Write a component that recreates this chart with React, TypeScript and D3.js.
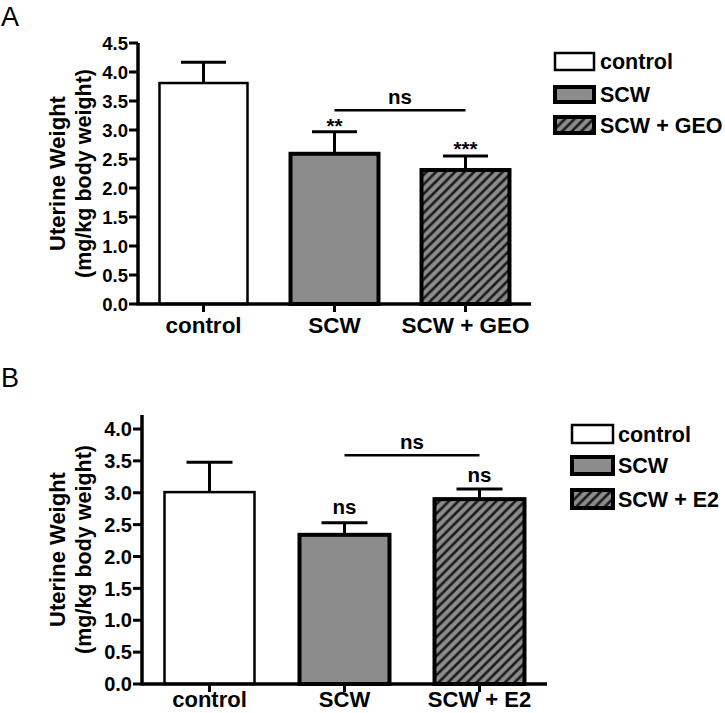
import React from "react";
import * as d3 from "d3";

// ---------- Data ----------
const categoriesA = ["control", "SCW", "SCW + GEO"];
const meansA = [3.81, 2.59, 2.31];
const errorsA = [0.36, 0.38, 0.24];
const sigA = ["", "**", "***"];
const bracketA = { from: 1, to: 2, level: 3.34, label: "ns" };
const ticksA = [0, 0.5, 1, 1.5, 2, 2.5, 3, 3.5, 4, 4.5];

const categoriesB = ["control", "SCW", "SCW + E2"];
const meansB = [3.01, 2.34, 2.9];
const errorsB = [0.47, 0.19, 0.16];
const sigB = ["", "ns", "ns"];
const bracketB = { from: 1, to: 2, level: 3.59, label: "ns" };
const ticksB = [0, 0.5, 1, 1.5, 2, 2.5, 3, 3.5, 4];

const yTitle1 = "Uterine Weight";
const yTitle2 = "(mg/kg body weight)";

const FONT = "'Liberation Sans', Arial, Helvetica, sans-serif";
const GRAY = "#8c8c8c";

type PanelProps = {
  letter: string;
  letterY: number;
  cats: string[];
  means: number[];
  errs: number[];
  sig: string[];
  bracket: { from: number; to: number; level: number; label: string };
  ticks: number[];
  yMax: number;
  axisTop: number;
  yTop: number;
  yBottom: number;
  xLeft: number;
  xRight: number;
  barW: number;
  capW: number;
  tickFont: number;
  labelDy: number;
  labelFont: number;
  legendX: number;
  legendTextX: number;
  legendRows: [number, number][];
  legendW: number;
  sigOffset: number[];
};

function fillFor(i: number) {
  if (i === 0) return "#ffffff";
  if (i === 1) return GRAY;
  return "url(#hatch)";
}

function Panel(p: PanelProps) {
  const y = d3.scaleLinear().domain([0, p.yMax]).range([p.yBottom, p.yTop]);
  const x = d3.scalePoint<string>().domain(p.cats).range([p.xLeft, p.xRight]).padding(0.5);
  const midY = (y(p.axisTop) + p.yBottom) / 2;
  return (
    <g>
      <text x={1} y={p.letterY} fontFamily={FONT} fontSize={27} fill="#000">
        {p.letter}
      </text>
      {/* y title */}
      <g transform={`translate(65,${midY}) rotate(-90)`}>
        <text textAnchor="middle" fontFamily={FONT} fontWeight="bold" fontSize={22}>
          {yTitle1}
        </text>
      </g>
      <g transform={`translate(91,${midY}) rotate(-90)`}>
        <text textAnchor="middle" fontFamily={FONT} fontWeight="bold" fontSize={21.5}>
          {yTitle2}
        </text>
      </g>
      {/* bars */}
      {p.cats.map((c, i) => {
        const cx = x(c)!;
        const top = y(p.means[i]);
        const capY = y(p.means[i] + p.errs[i]);
        const sw = i === 0 ? 2.5 : 4;
        return (
          <g key={c}>
            <line x1={cx} x2={cx} y1={top} y2={capY} stroke="#000" strokeWidth={3} />
            <line x1={cx - p.capW / 2} x2={cx + p.capW / 2} y1={capY} y2={capY} stroke="#000" strokeWidth={3} />
            <rect
              x={cx - p.barW / 2}
              y={top}
              width={p.barW}
              height={p.yBottom - top}
              fill={fillFor(i)}
              stroke="#000"
              strokeWidth={sw}
            />
            {p.sig[i] && (
              <text
                x={cx}
                y={capY - p.sigOffset[i]}
                textAnchor="middle"
                fontFamily={FONT}
                fontWeight="bold"
                fontSize={20.5}
              >
                {p.sig[i]}
              </text>
            )}
            <line x1={cx} x2={cx} y1={p.yBottom} y2={p.yBottom + 8} stroke="#000" strokeWidth={3} />
            <text
              x={cx}
              y={p.yBottom + p.labelDy}
              textAnchor="middle"
              fontFamily={FONT}
              fontWeight="bold"
              fontSize={p.labelFont}
            >
              {c}
            </text>
          </g>
        );
      })}
      {/* bracket */}
      {(() => {
        const x1 = x(p.cats[p.bracket.from])!;
        const x2 = x(p.cats[p.bracket.to])!;
        const by = y(p.bracket.level);
        return (
          <g>
            <line x1={x1} x2={x2} y1={by} y2={by} stroke="#000" strokeWidth={2.5} />
            <text x={(x1 + x2) / 2} y={by - 6} textAnchor="middle" fontFamily={FONT} fontWeight="bold" fontSize={20.5}>
              {p.bracket.label}
            </text>
          </g>
        );
      })()}
      {/* axes */}
      <line x1={p.xLeft} x2={p.xLeft} y1={y(p.axisTop)} y2={p.yBottom + 1.5} stroke="#000" strokeWidth={3.5} />
      <line x1={p.xLeft} x2={p.xRight} y1={p.yBottom} y2={p.yBottom} stroke="#000" strokeWidth={3.5} />
      {p.ticks.map((t) => (
        <g key={t}>
          <line x1={p.xLeft - 9} x2={p.xLeft} y1={y(t)} y2={y(t)} stroke="#000" strokeWidth={3} />
          <text
            x={p.xLeft - 10}
            y={y(t)}
            dy="0.36em"
            textAnchor="end"
            fontFamily={FONT}
            fontWeight="bold"
            fontSize={p.tickFont}
          >
            {d3.format(".1f")(t)}
          </text>
        </g>
      ))}
      {/* legend */}
      {p.cats.map((c, i) => {
        const [t, b] = p.legendRows[i];
        return (
          <g key={"leg" + c}>
            <rect
              x={p.legendX}
              y={t}
              width={p.legendW}
              height={b - t}
              fill={fillFor(i)}
              stroke="#000"
              strokeWidth={i === 0 ? 2.5 : 4}
            />
            <text
              x={p.legendTextX}
              y={(t + b) / 2}
              dy="0.36em"
              fontFamily={FONT}
              fontWeight="bold"
              fontSize={21.5}
            >
              {c}
            </text>
          </g>
        );
      })}
    </g>
  );
}

export default function App() {
  return (
    <svg width={725} height={713} style={{ position: "absolute", left: 0, top: 0, background: "#fff" }}>
      <defs>
        <pattern id="hatch" patternUnits="userSpaceOnUse" width={9.5} height={9.5}>
          <rect width={9.5} height={9.5} fill={GRAY} />
          <path d="M-2,2 l4,-4 M0,9.5 l9.5,-9.5 M7.5,11.5 l4,-4" stroke="#1a1a1a" strokeWidth={2.6} />
        </pattern>
      </defs>
      <rect width={725} height={713} fill="#fff" />
      <Panel
        letter="A"
        letterY={26}
        cats={categoriesA}
        means={meansA}
        errs={errorsA}
        sig={sigA}
        bracket={bracketA}
        ticks={ticksA}
        yMax={4.5}
        axisTop={4.5}
        yTop={43}
        yBottom={304}
        xLeft={138}
        xRight={531}
        barW={88}
        capW={45}
        tickFont={18.5}
        labelDy={29}
        labelFont={22.5}
        legendX={555}
        legendTextX={600}
        legendRows={[
          [53, 70],
          [87, 102],
          [117, 133],
        ]}
        legendW={39}
        sigOffset={[0, -1, 0]}
      />
      <Panel
        letter="B"
        letterY={387}
        cats={categoriesB}
        means={meansB}
        errs={errorsB}
        sig={sigB}
        bracket={bracketB}
        ticks={ticksB}
        yMax={4}
        axisTop={4.22}
        yTop={429}
        yBottom={684}
        xLeft={142}
        xRight={547}
        barW={90}
        capW={46}
        tickFont={20}
        labelDy={23}
        labelFont={22}
        legendX={572}
        legendTextX={618}
        legendRows={[
          [425, 443],
          [457, 474],
          [490, 508],
        ]}
        legendW={41}
        sigOffset={[0, 9, 7]}
      />
    </svg>
  );
}
